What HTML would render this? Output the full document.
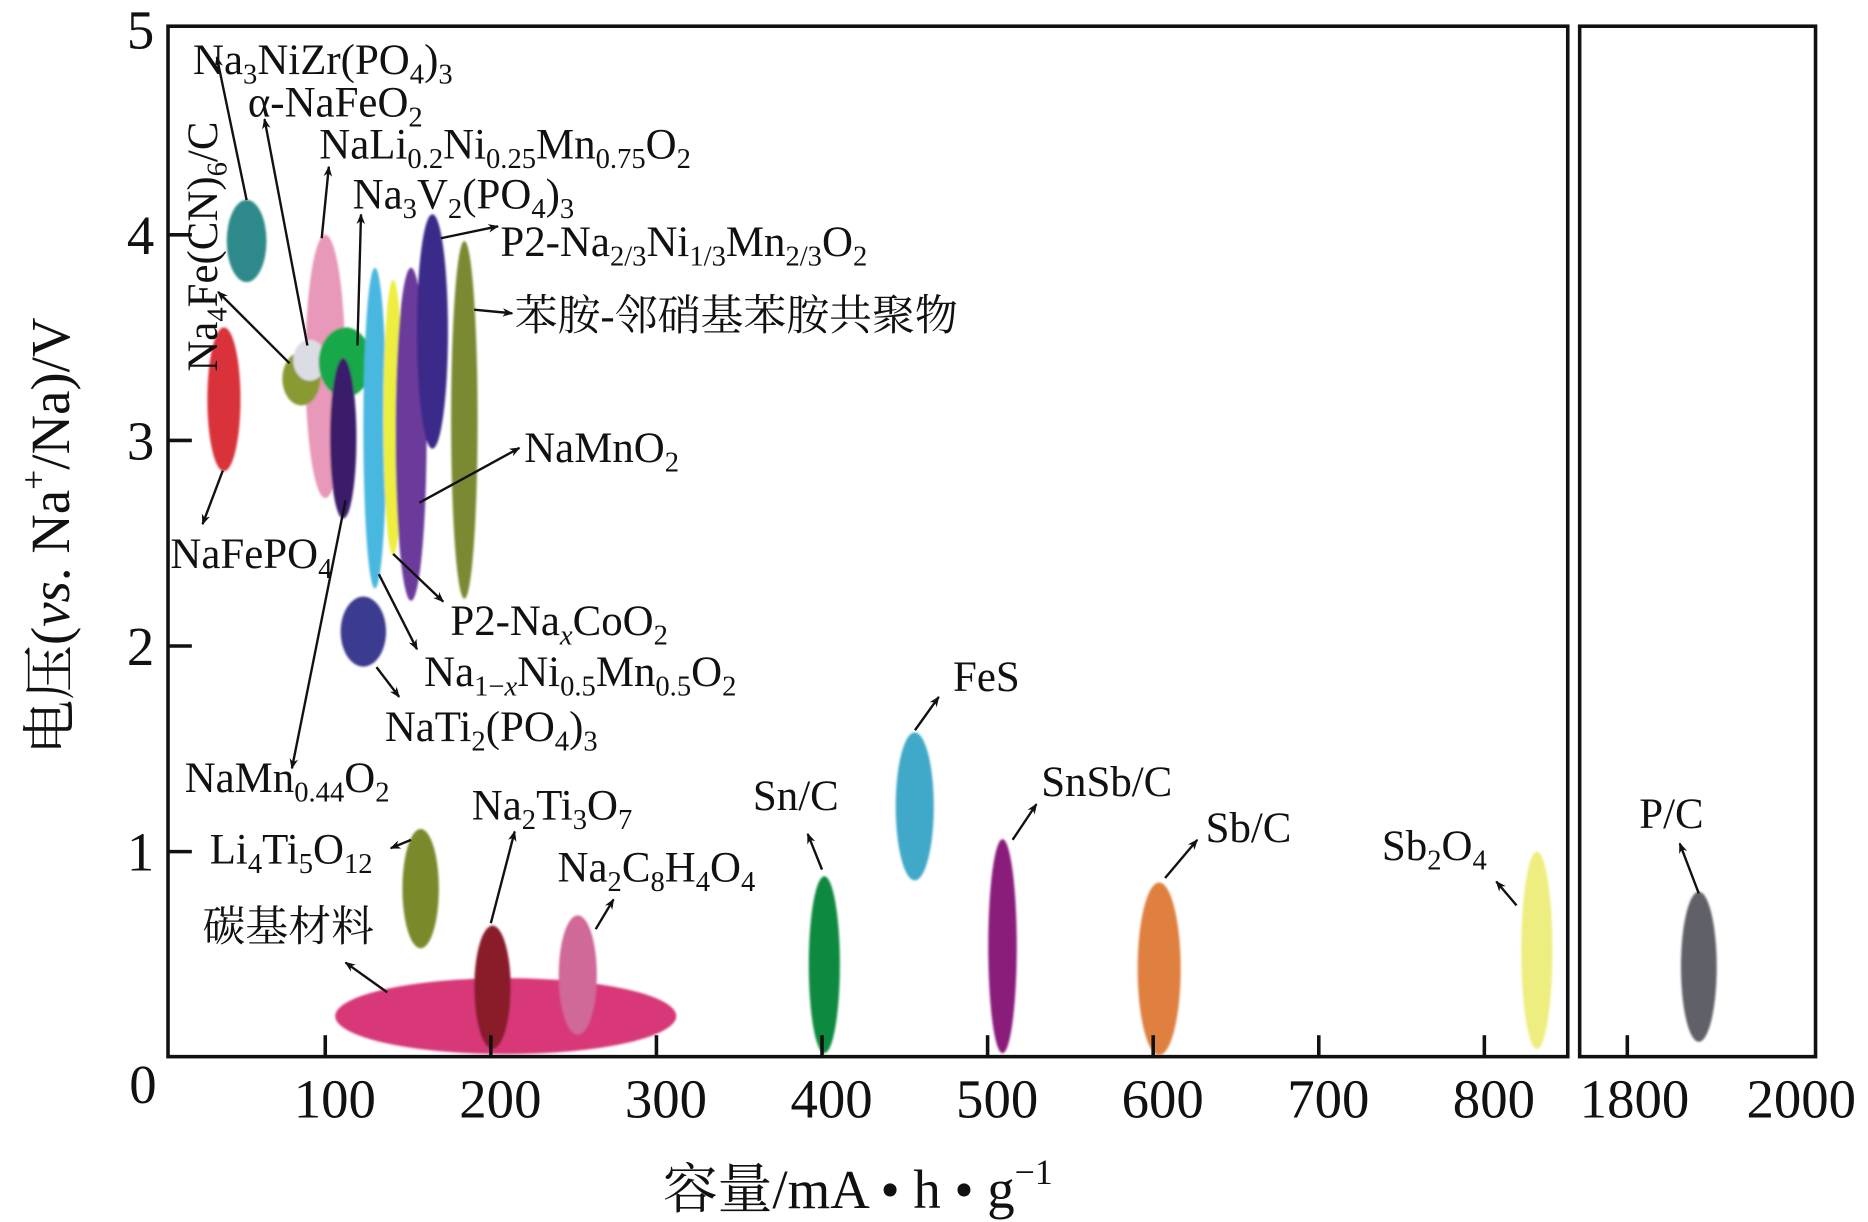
<!DOCTYPE html>
<html><head><meta charset="utf-8">
<style>
html,body{margin:0;padding:0;background:#fff;}
svg{display:block;}
text{font-family:"Liberation Serif","Noto Serif CJK SC","Noto Sans CJK SC",serif;fill:#111;}
.lb{font-size:36px;}
.tk{font-size:46px;}
.sub{font-size:24px;}
</style></head>
<body>
<svg id="chart" width="1868" height="1222" viewBox="0 0 1568 1025.8" xmlns="http://www.w3.org/2000/svg">
<defs>
<marker id="ah" viewBox="0 0 10 10" refX="9" refY="5" markerWidth="9" markerHeight="9" orient="auto-start-reverse" markerUnits="userSpaceOnUse">
<path d="M0,1 L10,5 L0,9 L3,5 z" fill="#111"/></marker>
<filter id="blur"><feGaussianBlur stdDeviation="1"/></filter>
</defs>
<g id="marks" filter="url(#blur)"></g>
<rect x="141" y="22" width="1175" height="865" fill="none" stroke="#111" stroke-width="3"/>
<rect x="1326" y="22" width="198" height="865" fill="none" stroke="#111" stroke-width="3"/>
<g id="axes"></g>
<g id="labels">
<text class="lb" x="162" y="62">Na<tspan class="sub" dy="8">3</tspan><tspan dy="-8">NiZr(PO</tspan><tspan class="sub" dy="8">4</tspan><tspan dy="-8">)</tspan><tspan class="sub" dy="8">3</tspan></text>
<text class="lb" x="208" y="98">α-NaFeO<tspan class="sub" dy="8">2</tspan></text>
<text class="lb" x="268" y="133">NaLi<tspan class="sub" dy="8">0.2</tspan><tspan dy="-8">Ni</tspan><tspan class="sub" dy="8">0.25</tspan><tspan dy="-8">Mn</tspan><tspan class="sub" dy="8">0.75</tspan><tspan dy="-8">O</tspan><tspan class="sub" dy="8">2</tspan></text>
<text class="lb" x="296" y="175">Na<tspan class="sub" dy="8">3</tspan><tspan dy="-8">V</tspan><tspan class="sub" dy="8">2</tspan><tspan dy="-8">(PO</tspan><tspan class="sub" dy="8">4</tspan><tspan dy="-8">)</tspan><tspan class="sub" dy="8">3</tspan></text>
<text class="lb" x="420" y="215">P2-Na<tspan class="sub" dy="8">2/3</tspan><tspan dy="-8">Ni</tspan><tspan class="sub" dy="8">1/3</tspan><tspan dy="-8">Mn</tspan><tspan class="sub" dy="8">2/3</tspan><tspan dy="-8">O</tspan><tspan class="sub" dy="8">2</tspan></text>
<text class="lb" x="432" y="277">苯胺-邻硝基苯胺共聚物</text>
<text class="lb" transform="translate(182,312) rotate(-90)">Na<tspan class="sub" dy="8">4</tspan><tspan dy="-8">Fe(CN)</tspan><tspan class="sub" dy="8">6</tspan><tspan dy="-8">/C</tspan></text>
<text class="lb" x="440" y="388">NaMnO<tspan class="sub" dy="8">2</tspan></text>
<text class="lb" x="143" y="477">NaFePO<tspan class="sub" dy="8">4</tspan></text>
<text class="lb" x="378" y="533">P2-Na<tspan class="sub" dy="8" font-style="italic">x</tspan><tspan dy="-8">CoO</tspan><tspan class="sub" dy="8">2</tspan></text>
<text class="lb" x="356" y="576">Na<tspan class="sub" dy="8">1−<tspan font-style="italic">x</tspan></tspan><tspan dy="-8">Ni</tspan><tspan class="sub" dy="8">0.5</tspan><tspan dy="-8">Mn</tspan><tspan class="sub" dy="8">0.5</tspan><tspan dy="-8">O</tspan><tspan class="sub" dy="8">2</tspan></text>
<text class="lb" x="323" y="622">NaTi<tspan class="sub" dy="8">2</tspan><tspan dy="-8">(PO</tspan><tspan class="sub" dy="8">4</tspan><tspan dy="-8">)</tspan><tspan class="sub" dy="8">3</tspan></text>
<text class="lb" x="155" y="665">NaMn<tspan class="sub" dy="8">0.44</tspan><tspan dy="-8">O</tspan><tspan class="sub" dy="8">2</tspan></text>
<text class="lb" x="396" y="688">Na<tspan class="sub" dy="8">2</tspan><tspan dy="-8">Ti</tspan><tspan class="sub" dy="8">3</tspan><tspan dy="-8">O</tspan><tspan class="sub" dy="8">7</tspan></text>
<text class="lb" x="632" y="680">Sn/C</text>
<text class="lb" x="800" y="580">FeS</text>
<text class="lb" x="874" y="668">SnSb/C</text>
<text class="lb" x="176" y="725">Li<tspan class="sub" dy="8">4</tspan><tspan dy="-8">Ti</tspan><tspan class="sub" dy="8">5</tspan><tspan dy="-8">O</tspan><tspan class="sub" dy="8">12</tspan></text>
<text class="lb" x="468" y="740">Na<tspan class="sub" dy="8">2</tspan><tspan dy="-8">C</tspan><tspan class="sub" dy="8">8</tspan><tspan dy="-8">H</tspan><tspan class="sub" dy="8">4</tspan><tspan dy="-8">O</tspan><tspan class="sub" dy="8">4</tspan></text>
<text class="lb" x="1012" y="707">Sb/C</text>
<text class="lb" x="1160" y="722">Sb<tspan class="sub" dy="8">2</tspan><tspan dy="-8">O</tspan><tspan class="sub" dy="8">4</tspan></text>
<text class="lb" x="1376" y="695">P/C</text>
<text class="lb" x="170" y="790">碳基材料</text>
</g>
<g id="arrows" stroke="#111" stroke-width="2" fill="none"></g>
<text class="tk" x="720" y="1014" font-size="50" text-anchor="middle">容量/mA • h • g<tspan font-size="30" dy="-20">−1</tspan></text>
<text class="tk" transform="translate(58,450) rotate(-90)" font-size="50" text-anchor="middle">电压(<tspan font-style="italic">vs</tspan>. Na<tspan font-size="30" dy="-20">+</tspan><tspan dy="20">/Na)/V</tspan></text>
</svg>
<script>
const names=["NaFePO4","Na3NiZr(PO4)3","NaLi0.2Ni0.25Mn0.75O2","Na4Fe(CN)6/C","a-NaFeO2","Na3V2(PO4)3","NaMn0.44O2","Na1-xNi0.5Mn0.5O2","P2-NaxCoO2","NaMnO2","P2-Na2/3Ni1/3Mn2/3O2","copolymer","NaTi2(PO4)3","Li4Ti5O12","carbon","Na2Ti3O7","Na2C8H4O4","Sn/C","FeS","SnSb/C","Sb/C","Sb2O4","P/C"];
const capacity=[38.8,52.5,100,85.6,90.6,112,110.8,130,141,151.8,164.7,184,123,157.6,209,201,252.5,401.4,456,509,603.6,831.7,1876];
const capHalf=[10,12,12,11.5,10,16,8,7,6,9.4,9.4,8,13.7,11,103,11,11.5,9.4,11.5,8.6,13,9.4,19];
const voltage=[3.20,3.97,3.36,3.30,3.39,3.38,3.01,3.06,3.11,3.03,3.53,3.10,2.07,0.82,0.20,0.34,0.40,0.45,1.22,0.54,0.43,0.52,0.44];
const voltHalf=[0.35,0.20,0.64,0.13,0.10,0.17,0.39,0.78,0.67,0.81,0.57,0.87,0.17,0.29,0.185,0.30,0.29,0.43,0.36,0.52,0.42,0.48,0.365];
const colors=["#d9303a","#2e8a8a","#e898b8","#8a9a30","#dcdce4","#12a84a","#3a1a6a","#4ab8e0","#eeee40","#6a3a9a","#3a2a8a","#7a8a30","#3a3a90","#7a8a2a","#d83878","#8a1a2a","#d06898","#108a40","#40a8c8","#8a1a7a","#e08040","#eeee80","#606068"];
const order=[14,2,0,1,3,4,5,6,7,8,9,10,11,12,13,15,16,17,18,19,20,21,22];
const xTicksL=[100,200,300,400,500,600,700,800];
const xTicksR=[1800,2000];
const yTicks=[1,2,3,4,5];
const NS="http://www.w3.org/2000/svg";
function xs(c){return c>=1500?1366+(c-1800)*0.79:134+1.39*c;}
function xScale(c){return c>=1500?0.79:1.39;}
function ys(v){return 887.5-172.6*v;}
const marks=document.getElementById('marks');
order.forEach(i=>{
 const e=document.createElementNS(NS,'ellipse');
 e.setAttribute('cx',xs(capacity[i]));e.setAttribute('cy',ys(voltage[i]));
 e.setAttribute('rx',capHalf[i]*xScale(capacity[i]));e.setAttribute('ry',voltHalf[i]*172.6);
 e.setAttribute('fill',colors[i]);
 
 
 marks.appendChild(e);
});
const axes=document.getElementById('axes');
function line(x1,y1,x2,y2,n){const l=document.createElementNS(NS,'line');l.setAttribute('x1',x1);l.setAttribute('y1',y1);l.setAttribute('x2',x2);l.setAttribute('y2',y2);l.setAttribute('stroke','#111');l.setAttribute('stroke-width','3');
 
 
 axes.appendChild(l);}
function txt(x,y,s,n,anchor){const t=document.createElementNS(NS,'text');t.setAttribute('x',x);t.setAttribute('y',y);t.setAttribute('class','tk');t.setAttribute('text-anchor',anchor||'middle');t.textContent=s;
 
 
 axes.appendChild(t);}
xTicksL.concat(xTicksR).forEach(c=>{const x=xs(c);if(c<2000)line(x,887,x,869,'x-tick-'+c);const off=c===2000?-12:(c===1800?6:8);txt(x+off,938,String(c),'x-tick-label-'+c);});
txt(120,926,'0','x-origin-label');
yTicks.forEach(v=>{const y=ys(v);if(v<5)line(141,y,161,y,'y-tick-'+v);txt(118,y+16,String(v),'y-tick-label-'+v,'middle');});
const arrows=[[207,168,182,48],[258,290,222,100],[270,200,276,140],[300,290,303,180],[370,200,418,190],[398,260,430,263],[243,305,183,245],[352,422,436,376],[187,395,170,440],[330,465,372,505],[318,482,350,545],[316,560,335,585],[290,420,245,645],[412,775,432,698],[690,730,678,700],[768,613,788,585],[850,705,870,675],[345,705,328,712],[500,780,515,755],[978,737,1005,705],[1273,760,1256,740],[1426,750,1410,708],[325,833,290,808]];
const ag=document.getElementById('arrows');
arrows.forEach((a,i)=>{const l=document.createElementNS(NS,'line');l.setAttribute('x1',a[0]);l.setAttribute('y1',a[1]);l.setAttribute('x2',a[2]);l.setAttribute('y2',a[3]);l.setAttribute('marker-end','url(#ah)');
 
 
 ag.appendChild(l);});
</script>
</body></html>
